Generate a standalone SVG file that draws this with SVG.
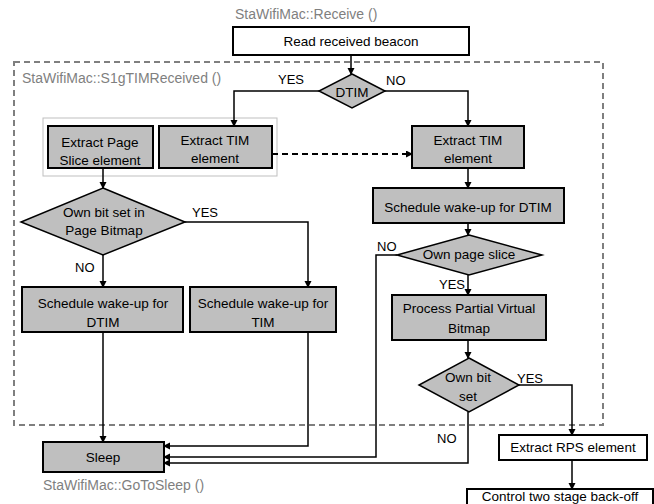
<svg xmlns="http://www.w3.org/2000/svg" width="654" height="504" viewBox="0 0 654 504">
<style>
text{font-family:"Liberation Sans",Arial,sans-serif;font-size:13.5px;fill:#000}
.c{text-anchor:middle}
.lbl{font-size:13px}
.fn{fill:#7f7f7f;font-size:14px}
.box{fill:#bfbfbf;stroke:#000;stroke-width:2}
.wbox{fill:#fff;stroke:#000;stroke-width:2}
.dia{fill:#bfbfbf;stroke:#000;stroke-width:1.5}
.ln{fill:none;stroke:#000;stroke-width:1.5}
</style>
<defs>
<marker id="ah" markerUnits="userSpaceOnUse" markerWidth="8" markerHeight="8" refX="6" refY="3.5" orient="auto">
<path d="M0,0 L7,3.5 L0,7 z" fill="#000"/>
</marker>
</defs>
<rect width="654" height="504" fill="#fff"/>
<g id="region">
<rect x="14" y="62" width="589" height="363" fill="none" stroke="#7f7f7f" stroke-width="2" stroke-dasharray="6,4"/>
<text class="fn" x="22" y="83">StaWifiMac::S1gTIMReceived ()</text>
<text class="fn" x="235" y="19">StaWifiMac::Receive ()</text>
<text class="fn" x="43" y="490">StaWifiMac::GoToSleep ()</text>
<rect x="43" y="118" width="234" height="58" fill="none" stroke="#bfbfbf" stroke-width="1"/>
</g>
<g id="connectors">
<path class="ln" d="M351,55 V74" marker-end="url(#ah)"/>
<path class="ln" d="M319,91 H234 V126" marker-end="url(#ah)"/>
<path class="ln" d="M385,91 H468 V126" marker-end="url(#ah)"/>
<path d="M272,154 H412" fill="none" stroke="#000" stroke-width="2" stroke-dasharray="6,4" marker-end="url(#ah)"/>
<path class="ln" d="M103,168 V188" marker-end="url(#ah)"/>
<path class="ln" d="M185,222 H308 V287" marker-end="url(#ah)"/>
<path class="ln" d="M103,255 V287" marker-end="url(#ah)"/>
<path class="ln" d="M103,332 V442" marker-end="url(#ah)"/>
<path class="ln" d="M308,332 V446 H164" marker-end="url(#ah)"/>
<path class="ln" d="M468,168 V188" marker-end="url(#ah)"/>
<path class="ln" d="M468,223 V235" marker-end="url(#ah)"/>
<path class="ln" d="M397,255 H376 V457 H164" marker-end="url(#ah)"/>
<path class="ln" d="M468,275 V295" marker-end="url(#ah)"/>
<path class="ln" d="M468,340 V358" marker-end="url(#ah)"/>
<path class="ln" d="M519,385 H572 V435" marker-end="url(#ah)"/>
<path class="ln" d="M468,412 V463 H164" marker-end="url(#ah)"/>
<path class="ln" d="M572,460 V489" marker-end="url(#ah)"/>
<text class="lbl" x="278" y="84">YES</text>
<text class="lbl" x="386" y="85">NO</text>
<text class="lbl" x="192" y="217">YES</text>
<text class="lbl" x="75" y="272">NO</text>
<text class="lbl" x="377" y="251">NO</text>
<text class="lbl" x="439" y="289">YES</text>
<text class="lbl" x="517" y="383">YES</text>
<text class="lbl" x="437" y="443">NO</text>
</g>
<g id="read-beacon">
<rect class="wbox" x="233" y="27" width="236" height="28"/>
<text class="c" x="351" y="46">Read received beacon</text>
</g>
<g id="dtim">
<polygon class="dia" points="352,74 385,91 352,108 319,91"/>
<text class="c" x="352" y="97">DTIM</text>
</g>
<g id="extract-page-slice">
<rect class="box" x="48" y="126" width="105" height="42"/>
<text class="c" x="100" y="147">Extract Page</text>
<text class="c" x="100" y="165">Slice element</text>
</g>
<g id="extract-tim-left">
<rect class="box" x="159" y="126" width="113" height="42"/>
<text class="c" x="215" y="145">Extract TIM</text>
<text class="c" x="215" y="163">element</text>
</g>
<g id="extract-tim-right">
<rect class="box" x="412" y="126" width="112" height="42"/>
<text class="c" x="468" y="145">Extract TIM</text>
<text class="c" x="468" y="163">element</text>
</g>
<g id="own-bit-page-bitmap">
<polygon class="dia" points="103,188 185,222 103,255 21,222"/>
<text class="c" x="104" y="217">Own bit set in</text>
<text class="c" x="104" y="235">Page Bitmap</text>
</g>
<g id="sched-dtim-left">
<rect class="box" x="22" y="287" width="161" height="45"/>
<text class="c" x="103" y="308">Schedule wake-up for</text>
<text class="c" x="103" y="327">DTIM</text>
</g>
<g id="sched-tim">
<rect class="box" x="190" y="287" width="146" height="45"/>
<text class="c" x="263" y="308">Schedule wake-up for</text>
<text class="c" x="263" y="327">TIM</text>
</g>
<g id="sched-dtim-right">
<rect class="box" x="373" y="188" width="191" height="35"/>
<text class="c" x="468" y="212">Schedule wake-up for DTIM</text>
</g>
<g id="own-page-slice">
<polygon class="dia" points="469,235 542,255 469,275 397,255"/>
<text class="c" x="469" y="259">Own page slice</text>
</g>
<g id="process-pvb">
<rect class="box" x="392" y="295" width="154" height="45"/>
<text class="c" x="469" y="313">Process Partial Virtual</text>
<text class="c" x="469" y="333">Bitmap</text>
</g>
<g id="own-bit-set">
<polygon class="dia" points="469,358 519,385 469,412 419,385"/>
<text class="c" x="468" y="382">Own bit</text>
<text class="c" x="468" y="401">set</text>
</g>
<g id="sleep">
<rect class="box" x="43" y="442" width="121" height="30"/>
<text class="c" x="103" y="462">Sleep</text>
</g>
<g id="extract-rps">
<rect class="wbox" x="499" y="435" width="148" height="25"/>
<text class="c" x="573" y="452">Extract RPS element</text>
</g>
<g id="control-backoff">
<rect class="wbox" x="467" y="489" width="186" height="28"/>
<text class="c" x="560" y="501">Control two stage back-off</text>
</g>
</svg>
